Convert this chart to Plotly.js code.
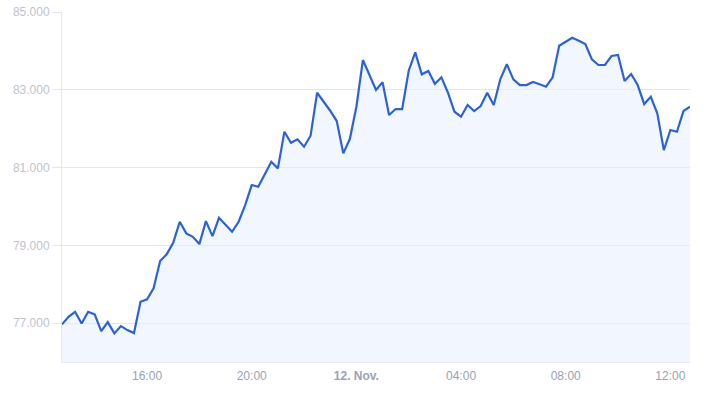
<!DOCTYPE html>
<html>
<head>
<meta charset="utf-8">
<script src="https://cdn.plot.ly/plotly-3.0.1.min.js"></script>
<style>
  html, body { margin: 0; padding: 0; background: #ffffff; }
  #chart { width: 707px; height: 414px; }
</style>
</head>
<body>
<div id="chart"></div>
<script>
// Time axis: first sample and sampling step (15-minute quotes)
const startTime = "2024-11-11T12:45:00";
const stepMinutes = 15;

// Price values
const prices = [
  76967, 77162, 77291, 76992, 77291, 77224, 76794, 77026, 76735, 76923,
  76820, 76743, 77548, 77610, 77893, 78595, 78767, 79066, 79606, 79307,
  79220, 79032, 79624, 79238, 79709, 79539, 79349, 79606, 80035, 80550,
  80506, 80825, 81149, 80979, 81921, 81638, 81725, 81535, 81818, 82924,
  82693, 82461, 82196, 81365, 81733, 82564, 83765, 83397, 82994, 83192,
  82351, 82505, 82505, 83490, 83963, 83397, 83482, 83153, 83320, 82924,
  82435, 82307, 82608, 82453, 82582, 82924, 82608, 83269, 83655, 83269,
  83122, 83122, 83199, 83140, 83078, 83320, 84133, 84236, 84339, 84262,
  84177, 83783, 83637, 83637, 83868, 83894, 83225, 83405, 83122, 82633,
  82821, 82394, 81450, 81965, 81921, 82453, 82564
];

// Axis ticks
const yTickVals = [77000, 79000, 81000, 83000, 85000];
const yTickText = ["77.000", "79.000", "81.000", "83.000", "85.000"];
const xTickVals = ["2024-11-11T16:00:00", "2024-11-11T20:00:00", "2024-11-12T00:00:00",
                   "2024-11-12T04:00:00", "2024-11-12T08:00:00", "2024-11-12T12:00:00"];
const xTickText = ["16:00", "20:00", "<b>12. Nov.</b>", "04:00", "08:00", "12:00"];

function pad(n) { return (n < 10 ? "0" : "") + n; }
const t0 = new Date(startTime + "Z").getTime();
const times = prices.map((_, i) => {
  const d = new Date(t0 + i * stepMinutes * 60000);
  return d.getUTCFullYear() + "-" + pad(d.getUTCMonth() + 1) + "-" + pad(d.getUTCDate()) +
         "T" + pad(d.getUTCHours()) + ":" + pad(d.getUTCMinutes()) + ":00";
});

const trace = {
  x: times,
  y: prices,
  type: "scatter",
  mode: "lines",
  line: { color: "#2d62d7", width: 2.2 },
  fill: "tozeroy",
  fillcolor: "rgba(232, 238, 254, 0.55)",
  hoverinfo: "x+y"
};

const gridColor = "#e4e5ef";

const layout = {
  width: 707,
  height: 414,
  margin: { l: 62, r: 17, t: 12, b: 52 },
  paper_bgcolor: "#ffffff",
  plot_bgcolor: "#ffffff",
  showlegend: false,
  font: { family: "Liberation Sans, Arial, Helvetica, sans-serif", size: 12 },
  xaxis: {
    type: "date",
    range: [times[0], times[times.length - 1]],
    tickvals: xTickVals,
    ticktext: xTickText,
    showgrid: false,
    zeroline: false,
    showline: true,
    linecolor: "#e8eaf2",
    linewidth: 1,
    ticks: "",
    ticklabelstandoff: 3,
    tickfont: { color: "#99a2b6", size: 12 },
    fixedrange: true
  },
  yaxis: {
    range: [76000, 85000],
    tickvals: yTickVals,
    ticktext: yTickText,
    showgrid: true,
    gridcolor: gridColor,
    gridwidth: 1,
    zeroline: false,
    showline: true,
    linecolor: gridColor,
    linewidth: 1,
    ticks: "outside",
    ticklen: 9,
    tickcolor: gridColor,
    tickfont: { color: "#bfc3cd", size: 12 },
    fixedrange: true
  }
};

Plotly.newPlot("chart", [trace], layout, { displayModeBar: false, staticPlot: true });
</script>
</body>
</html>
